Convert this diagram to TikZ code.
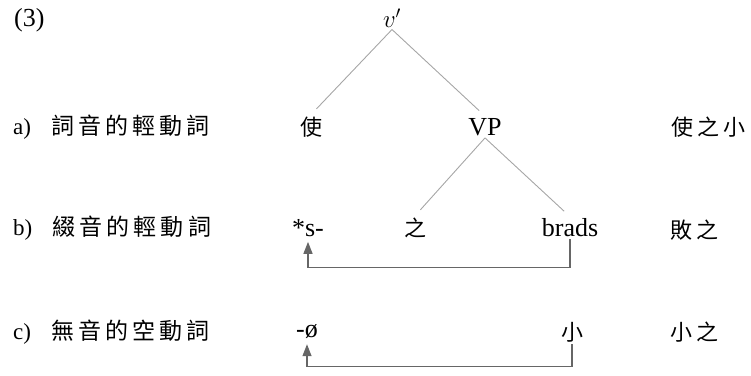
\documentclass[tikz,border=0pt]{standalone}
\usepackage{fontspec}
\setmainfont{Liberation Serif}
\newfontfamily\cjk[LetterSpace=18]{Noto Sans CJK TC}
\newfontfamily\cjkone{Noto Sans CJK TC}
\usetikzlibrary{arrows.meta}
\begin{document}
\begin{tikzpicture}[
    x=1pt, y=-1pt,
    word/.style={font=\fontsize{26}{30}\selectfont, inner sep=2pt},
    hanzi/.style={font=\fontsize{22}{26}\selectfont\cjkone, inner sep=2pt},
    label/.style={font=\fontsize{23}{26}\selectfont, anchor=west, inner sep=0pt},
    gloss/.style={font=\fontsize{22}{26}\selectfont\cjk, anchor=west, inner sep=0pt},
    branch/.style={draw=gray!70, line width=0.9pt, shorten >=8pt},
    move/.style={draw=black!60, line width=1.3pt, -{Triangle[width=9pt,length=12pt]}, shorten >=3pt}
]
\useasboundingbox (0,0) rectangle (751,375);

% Example number
\node[word, anchor=west, inner sep=0pt] (num) at (14,20) {(3)};

% Row labels
\node[label] (laba) at (13,127) {a)\hspace{20pt}{\cjk 詞音的輕動詞}};
\node[label] (labb) at (13,228) {b)\hspace{20pt}{\cjk 綴音的輕動詞}};
\node[label] (labc) at (13,332) {c)\hspace{20pt}{\cjk 無音的空動詞}};

% Tree
\node[word] (vbar) at (392,18) {$v'$};
\node[hanzi] (shi) at (311,127) {使};
\node[word] (vp) at (485,127) {VP};
\node[word] (sstar) at (308,228) {*s-};
\node[hanzi] (zhi) at (415,228) {之};
\node[word] (brads) at (570,228) {brads};
\node[word] (null) at (307,332) {-ø};
\node[hanzi] (xiao) at (572,332) {小};

\draw[branch] (vbar.south) -- (shi.north);
\draw[branch] (vbar.south) -- (vp.north);
\draw[branch] (vp.south) -- (zhi.north);
\draw[branch] (vp.south) -- (brads.north);

% Glosses
\node[gloss] (glossa) at (671,127) {使之小};
\node[gloss] (glossb) at (670,230) {敗之};
\node[gloss] (glossc) at (670,332) {小之};

% Movement arrows
\draw[move] (brads.south) -- ++(0,28) -| (sstar.south);
\draw[move] (xiao.south) -- ++(0,22) -| (null.south);
\end{tikzpicture}
\end{document}
